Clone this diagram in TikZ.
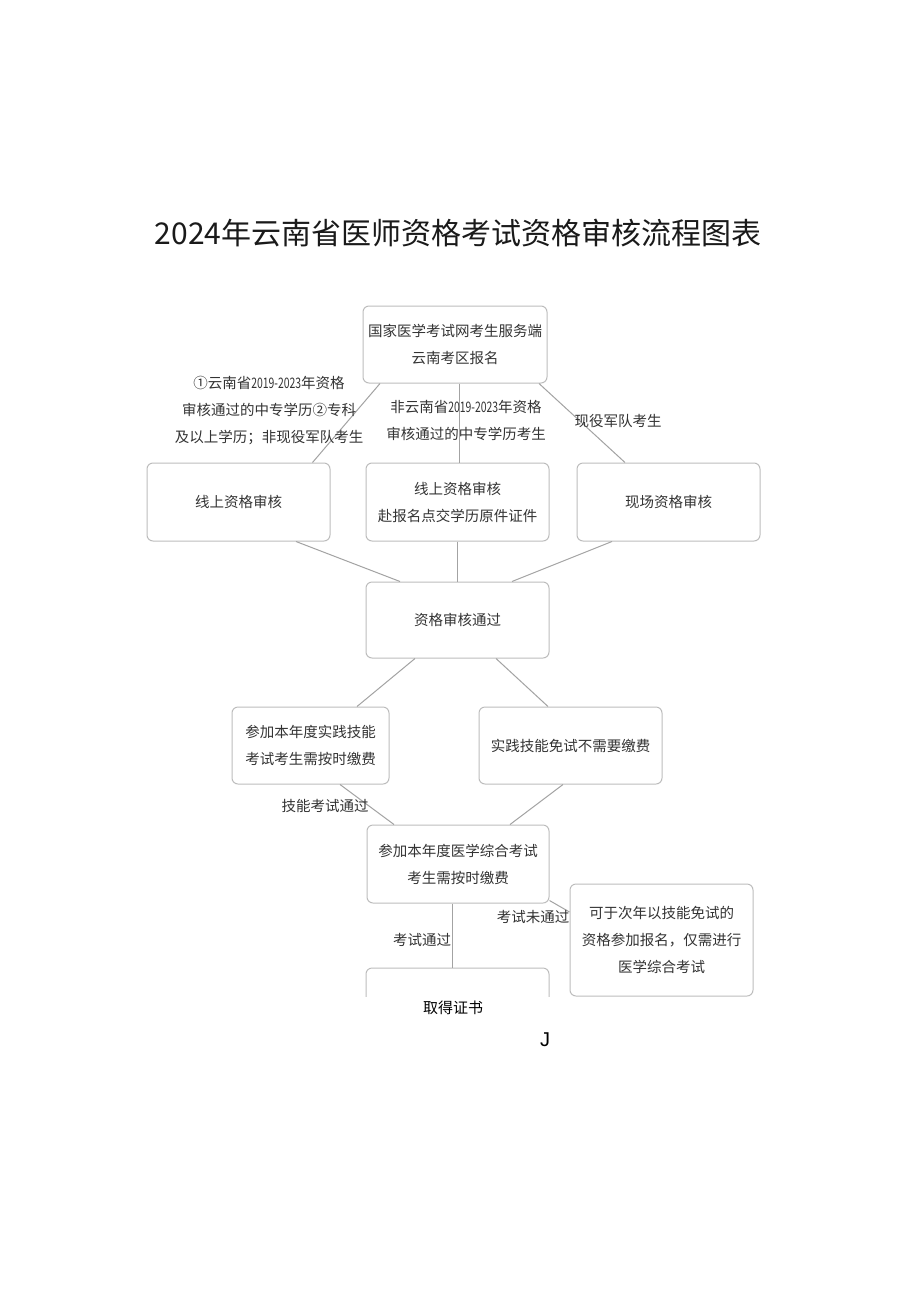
\documentclass[tikz,border=0pt]{standalone}
\usepackage{fontspec}
\setmainfont{Noto Sans CJK SC}
\newfontfamily\narrowfont[FakeStretch=0.72]{Noto Sans CJK SC}
\newfontfamily\latinfont{Liberation Sans}
\newcommand{\yr}[1]{{\narrowfont #1}}
\definecolor{qlink}{HTML}{333333}
\definecolor{qlframe}{HTML}{BDBDBD}
\definecolor{qlline}{HTML}{A3A3A3}
\definecolor{qltitle}{HTML}{1A1A1A}
\tikzset{
  ql text/.style={font=\fontsize{14.5}{27}\selectfont, text=qlink},
  ql box/.style={draw=qlframe, line width=1pt, rounded corners=6pt, fill=white,
    align=center, inner sep=0pt, ql text},
  ql line/.style={draw=qlline, line width=1pt},
  ql label/.style={align=center, inner sep=1pt, ql text},
  ql title/.style={font=\fontsize{30}{36}\selectfont, text=qltitle}
}

\begin{document}
\begin{tikzpicture}[x=1pt, y=-1pt]
  \useasboundingbox[fill=white] (0,0) rectangle (920,1301);
  \node[ql title] (title) at (458,233) {2024年云南省医师资格考试资格审核流程图表};
  \node[ql box, minimum width=184pt, minimum height=77pt] (reg) at (455,344.5) {国家医学考试网考生服务端\\云南考区报名};
  \node[ql box, minimum width=183pt, minimum height=78pt] (online) at (238.5,502) {线上资格审核};
  \node[ql box, minimum width=183pt, minimum height=78pt] (paper) at (457.5,502) {线上资格审核\\赴报名点交学历原件证件};
  \node[ql box, minimum width=183pt, minimum height=78pt] (onsite) at (668.5,502) {现场资格审核};
  \node[ql box, minimum width=183pt, minimum height=76pt] (passed) at (457.5,620) {资格审核通过};
  \node[ql box, minimum width=157pt, minimum height=77pt] (skill) at (310.5,745.5) {参加本年度实践技能\\考试考生需按时缴费};
  \node[ql box, minimum width=183pt, minimum height=77pt] (exempt) at (570.5,745.5) {实践技能免试不需要缴费};
  \node[ql box, minimum width=182pt, minimum height=78pt] (medexam) at (458,864) {参加本年度医学综合考试\\考生需按时缴费};
  \node[ql box, minimum width=183pt, minimum height=112pt] (retry) at (661.5,940) {可于次年以技能免试的\\资格参加报名，仅需进行\\医学综合考试};
  \begin{scope}
    \clip (0,0) rectangle (920,996.5);
    \node[ql box, minimum width=183pt, minimum height=78pt] (certbox) at (457.5,1007) {};
  \end{scope}
  \node[font=\fontsize{15}{18}\selectfont, text=black] (cert) at (453,1008) {取得证书};
  \node[font=\latinfont\fontsize{20}{24}\selectfont, text=black] (mark) at (545,1040) {J};

  \draw[ql line] ([xshift=-75pt]reg.south) -- ([xshift=74pt]online.north);
  \draw[ql line] ([xshift=4pt]reg.south) -- ([xshift=1.5pt]paper.north);
  \draw[ql line] ([xshift=84pt]reg.south) -- ([xshift=-43.5pt]onsite.north);
  \draw[ql line] ([xshift=57.5pt]online.south) -- ([xshift=-57.5pt]passed.north);
  \draw[ql line] (paper.south) -- (passed.north);
  \draw[ql line] ([xshift=-56.5pt]onsite.south) -- ([xshift=54.5pt]passed.north);
  \draw[ql line] ([xshift=-42.5pt]passed.south) -- ([xshift=46.5pt]skill.north);
  \draw[ql line] ([xshift=38.5pt]passed.south) -- ([xshift=-22.5pt]exempt.north);
  \draw[ql line] ([xshift=29.5pt]skill.south) -- ([xshift=-64pt]medexam.north);
  \draw[ql line] ([xshift=-7.5pt]exempt.south) -- ([xshift=52pt]medexam.north);
  \draw[ql line] ([xshift=-6pt]medexam.south) -- ([xshift=-5.5pt]certbox.north);
  \draw[ql line] ([yshift=3pt]medexam.south east) -- ([yshift=28pt]retry.west);

  \node[ql label] (fromyn) at (269,410.5) {①云南省\yr{2019-2023}年资格\\审核通过的中专学历②专科\\及以上学历；非现役军队考生};
  \node[ql label] (notyn) at (466,420.5) {非云南省\yr{2019-2023}年资格\\审核通过的中专学历考生};
  \node[ql label] (army) at (618,421) {现役军队考生};
  \node[ql label] (skillpass) at (325,806) {技能考试通过};
  \node[ql label] (exampass) at (422,940) {考试通过};
  \node[ql label] (examfail) at (533,917) {考试未通过};
\end{tikzpicture}
\end{document}
